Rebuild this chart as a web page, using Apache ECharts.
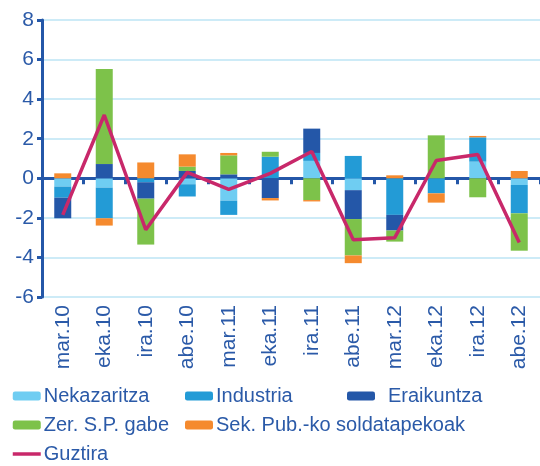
<!DOCTYPE html>
<html>
<head>
<meta charset="utf-8">
<script src="https://cdn.jsdelivr.net/npm/echarts@6/dist/echarts.min.js"></script>
<style>
  html, body { margin: 0; padding: 0; background: #fff; }
  .demo { width: 540px; height: 466px; }
</style>
</head>
<body>
<div class="demo"></div>
<script>
const categories = ['mar.10', 'eka.10', 'ira.10', 'abe.10', 'mar.11', 'eka.11', 'ira.11', 'abe.11', 'mar.12', 'eka.12', 'ira.12', 'abe.12']
const nekazaritza = [-0.42, -0.47, 0, -0.3, -1.13, 0, 0.88, -0.6, 0, 0, 0.84, -0.34]
const industria = [-0.56, -1.55, -0.2, -0.62, -0.72, 1.09, 0.4, 1.13, -1.85, -0.76, 1.23, -1.43]
const eraikuntza = [-1.04, 0.72, -0.83, 0.37, 0.2, -1.0, 1.23, -1.46, -0.79, 0, 0, 0]
const zerSP = [0, 4.8, -2.32, 0.22, 0.96, 0.25, -1.1, -1.84, -0.56, 2.17, -0.96, -1.89]
const sekPub = [0.25, -0.37, 0.8, 0.62, 0.12, -0.12, -0.07, -0.39, 0.15, -0.47, 0.07, 0.37]
const guztira = [-1.85, 3.2, -2.6, 0.3, -0.56, 0.25, 1.35, -3.11, -3.0, 0.9, 1.2, -3.25]
const yTicks = { min: -6, max: 8, step: 2 }

const chart = echarts.init(document.querySelector('.demo'))
const textBlue = '#2b5aa8'
const axisBlue = '#2457a8'
const font = 'Liberation Sans'

function barSeries(name, data, color) {
  return {
    name: name,
    type: 'bar',
    stack: 'total',
    barWidth: 17,
    data: data,
    itemStyle: { color: color }
  }
}

const legendBase = {
  orient: 'vertical',
  itemWidth: 28,
  itemHeight: 9,
  itemGap: 9,
  top: 386,
  padding: 0,
  height: 80,
  textStyle: { color: textBlue, fontSize: 20, fontFamily: font, lineHeight: 20, padding: [0, 0, 0, -2] }
}

const option = {
  animation: false,
  grid: { left: 42, right: 0, top: 20, bottom: 169, containLabel: false },
  legend: [
    Object.assign({}, legendBase, { left: 11, data: ['Nekazaritza', 'Zer. S.P. gabe',
      { name: 'Guztira', itemStyle: { opacity: 0 }, lineStyle: { width: 3.5 } }] }),
    Object.assign({}, legendBase, { left: 185, data: ['Industria', 'Sek. Pub.-ko soldatapekoak'] }),
    Object.assign({}, legendBase, { left: 347, data: ['Eraikuntza'],
      textStyle: Object.assign({}, legendBase.textStyle, { padding: [0, 0, 0, 8] }) })
  ],
  xAxis: [
    {
      // labels at the bottom of the grid
      type: 'category',
      data: categories,
      position: 'bottom',
      axisLine: { show: false, onZero: false },
      axisTick: { show: false },
      axisLabel: { interval: 0, rotate: 90, margin: 8, color: textBlue, fontSize: 21, fontFamily: font }
    },
    {
      // axis line with ticks on zero
      type: 'category',
      data: categories,
      position: 'bottom',
      axisLine: { onZero: true, lineStyle: { color: axisBlue, width: 3 } },
      axisTick: { show: true, interval: 0, length: 6, lineStyle: { color: axisBlue, width: 3 } },
      axisLabel: { show: false }
    }
  ],
  yAxis: {
    type: 'value',
    min: yTicks.min,
    max: yTicks.max,
    interval: yTicks.step,
    axisLine: { show: true, lineStyle: { color: axisBlue, width: 3 } },
    axisTick: { show: true, length: 5, lineStyle: { color: axisBlue, width: 3 } },
    axisLabel: { color: textBlue, fontSize: 21, fontFamily: font, margin: 8 },
    splitLine: { lineStyle: { color: '#bde5f5', width: 1.5 } }
  },
  series: [
    barSeries('Nekazaritza', nekazaritza, '#6fcdf2'),
    barSeries('Industria', industria, '#239bd6'),
    barSeries('Eraikuntza', eraikuntza, '#2457a8'),
    barSeries('Zer. S.P. gabe', zerSP, '#7dc24a'),
    barSeries('Sek. Pub.-ko soldatapekoak', sekPub, '#f58a2e'),
    {
      name: 'Guztira',
      type: 'line',
      data: guztira,
      symbol: 'none',
      z: 5,
      lineStyle: { color: '#c8286a', width: 3.5 },
      itemStyle: { color: '#c8286a' }
    }
  ]
}
chart.setOption(option)
</script>
</body>
</html>
